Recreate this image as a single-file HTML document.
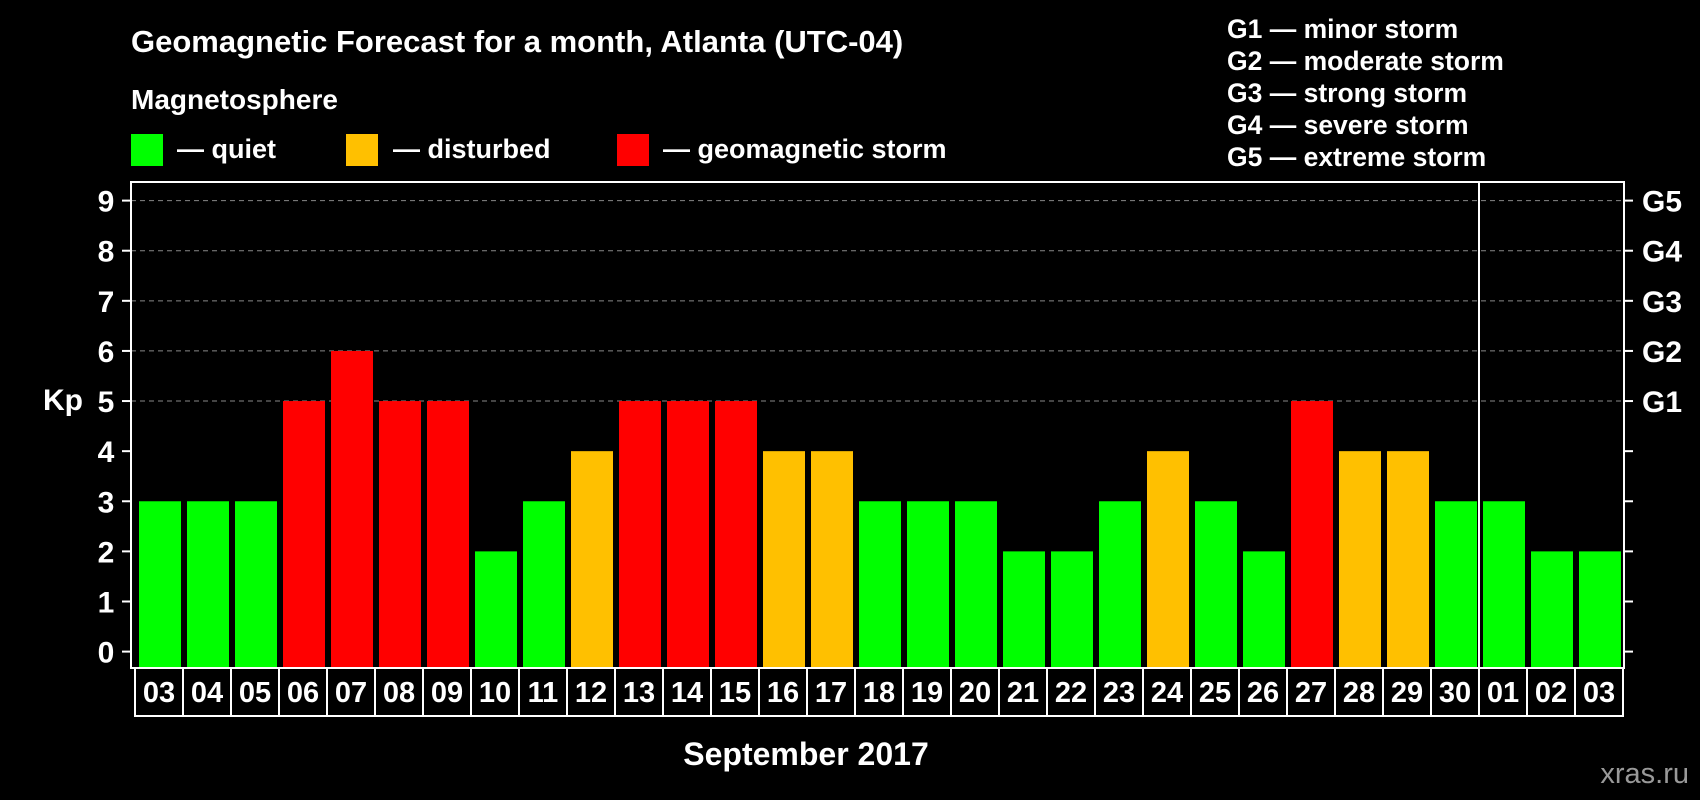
<!DOCTYPE html>
<html><head><meta charset="utf-8">
<style>
html,body{margin:0;padding:0;background:#000;}
svg{display:block;font-family:"Liberation Sans",Arial,sans-serif;font-weight:bold;}
</style></head>
<body>
<svg id="chart" width="1700" height="800" viewBox="0 0 1700 800">
<rect width="1700" height="800" fill="#000"/>
<text x="131" y="52" fill="#fff" font-size="31">Geomagnetic Forecast for a month, Atlanta (UTC-04)</text>
<text x="131" y="109" fill="#fff" font-size="28">Magnetosphere</text>
<g><rect x="131" y="134" width="32" height="32" fill="#00ff00"/><text x="177" y="158" fill="#fff" font-size="27">— quiet</text></g>
<g><rect x="346" y="134" width="32" height="32" fill="#ffc000"/><text x="393" y="158" fill="#fff" font-size="27">— disturbed</text></g>
<g><rect x="617" y="134" width="32" height="32" fill="#ff0000"/><text x="663" y="158" fill="#fff" font-size="27">— geomagnetic storm</text></g>
<g fill="#fff" font-size="26.5">
<text x="1227" y="38">G1 — minor storm</text>
<text x="1227" y="70">G2 — moderate storm</text>
<text x="1227" y="102">G3 — strong storm</text>
<text x="1227" y="134">G4 — severe storm</text>
<text x="1227" y="166">G5 — extreme storm</text>
</g>
<text x="43" y="410" fill="#fff" font-size="30">Kp</text>
<text x="806" y="765" fill="#fff" font-size="32" text-anchor="middle">September 2017</text>
<text x="1689" y="783" fill="#999" font-size="29" font-weight="normal" text-anchor="end">xras.ru</text>
<g id="plot"></g>
</svg>
<script>
const categories=["03","04","05","06","07","08","09","10","11","12","13","14","15","16","17","18","19","20","21","22","23","24","25","26","27","28","29","30","01","02","03"];
const kpValues=[3,3,3,5,6,5,5,2,3,4,5,5,5,4,4,3,3,3,2,2,3,4,3,2,5,4,4,3,3,2,2];
const yTicks=[0,1,2,3,4,5,6,7,8,9];
const gLabels=["G1","G2","G3","G4","G5"];
const NS="http://www.w3.org/2000/svg";
const g=document.getElementById('plot');
const L=131,R=1624,T=182,B=668;
function y(v){return 651.6-v*(451/9);}
function x(i){return 139+i*48;}
function mk(tag,attrs){const e=document.createElementNS(NS,tag);for(const k in attrs)e.setAttribute(k,attrs[k]);g.appendChild(e);return e;}
for(let v=5;v<=9;v++){
 const l=mk('line',{x1:L,x2:R,y1:y(v),y2:y(v),stroke:'#888','stroke-width':1,'stroke-dasharray':'5,4'});
 
 
}
kpValues.forEach((v,i)=>{
 const c=v>=5?'#ff0000':(v>=4?'#ffc000':'#00ff00');
 const r=mk('rect',{x:x(i),y:y(v),width:42,height:B-1-y(v),fill:c});
 
 
});
const f=mk('rect',{x:L,y:T,width:R-L,height:B-T,fill:'none',stroke:'#fff','stroke-width':2});


const dv=mk('line',{x1:1479,x2:1479,y1:T,y2:B,stroke:'#fff','stroke-width':2});


yTicks.forEach(v=>{
 const t1=mk('line',{x1:122,x2:L,y1:y(v),y2:y(v),stroke:'#fff','stroke-width':2});
 
 
 const t2=mk('line',{x1:R,x2:1633,y1:y(v),y2:y(v),stroke:'#fff','stroke-width':2});
 
 
 const tx=mk('text',{x:106,y:y(v)+11,fill:'#fff','font-size':30,'text-anchor':'middle'});
 tx.textContent=v;
 
 
});
gLabels.forEach((s,i)=>{
 const tx=mk('text',{x:1642,y:y(5+i)+11,fill:'#fff','font-size':30});
 tx.textContent=s;
 
 
});
categories.forEach((c,i)=>{
 const bx=mk('rect',{x:135+i*48,y:B,width:48,height:48,fill:'none',stroke:'#fff','stroke-width':2});
 
 
 const tx=mk('text',{x:159+i*48,y:702,fill:'#fff','font-size':29,'text-anchor':'middle'});
 tx.textContent=c;
 
 
});
</script>
</body></html>
